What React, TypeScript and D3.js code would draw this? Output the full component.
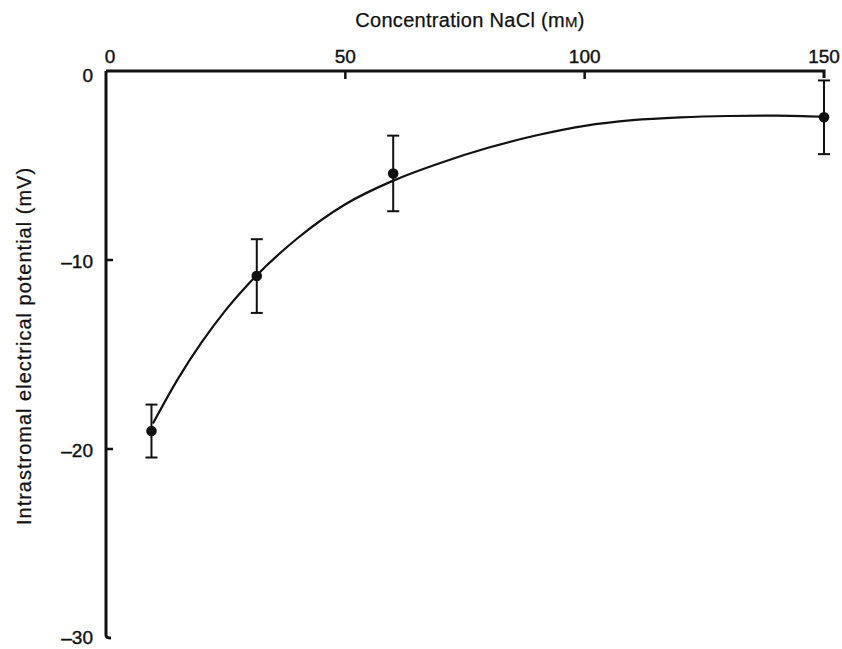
import React from "react";
import * as d3 from "d3";

// Measured intrastromal potential vs NaCl concentration
const concentrations = [9.5, 31.5, 60, 150];
const potentials = [-19.05, -10.85, -5.42, -2.45];
const errors = [1.4, 1.95, 2.0, 1.95];

// Fitted curve, sampled along the concentration axis
const fitConc = [9.8, 15, 20, 25, 30, 40, 50, 60, 70, 80, 90, 100, 110, 120, 130, 140, 150];
const fitPot = [-18.65, -16.3, -14.35, -12.65, -11.2, -8.85, -7.05, -5.8, -4.85, -4.05, -3.4, -2.9, -2.6, -2.45, -2.38, -2.36, -2.42];

const xTicks = [0, 50, 100, 150];
const yTicks = [0, -10, -20, -30];

const W = 842;
const H = 649;
const FONT = "'Liberation Sans', Arial, Helvetica, sans-serif";
const INK = "#111";

export default function App() {
  const x = d3.scaleLinear().domain([0, 150]).range([106, 824]);
  const y = d3.scaleLinear().domain([0, -30]).range([71, 638]);

  const line = d3
    .line<number>()
    .x((_, i) => x(fitConc[i]))
    .y((d) => y(d))
    .curve(d3.curveMonotoneX);

  const fmt = (v: number) => (v < 0 ? "\u2013" + Math.abs(v) : String(v));

  const x0 = x(0);
  const y0 = y(0);
  const yEnd = y(-30);

  return (
    <svg
      width={W}
      height={H}
      viewBox={`0 0 ${W} ${H}`}
      style={{ position: "absolute", left: 0, top: 0, background: "#fff" }}
      fontFamily={FONT}
    >
      <rect width={W} height={H} fill="#fff" />

      {/* Axis titles */}
      <text x={470} y={27} textAnchor="middle" fontSize={20} letterSpacing={0.3} fill={INK} stroke={INK} strokeWidth={0.25}>
        Concentration NaCl (m<tspan fontSize={15}>M</tspan>)
      </text>
      <text
        transform={`translate(31, 346) rotate(-90)`}
        textAnchor="middle"
        fontSize={20}
        letterSpacing={1}
        fill={INK}
        stroke={INK}
        strokeWidth={0.25}
      >
        Intrastromal electrical potential (mV)
      </text>

      {/* Top (concentration) axis */}
      <path
        d={`M${x0},${y0} H${x(150)} V${y0 + 7}`}
        fill="none"
        stroke={INK}
        strokeWidth={3}
      />
      {xTicks.slice(1, 3).map((t) => (
        <line key={t} x1={x(t)} x2={x(t)} y1={y0} y2={y0 + 8} stroke={INK} strokeWidth={2.5} />
      ))}
      {xTicks.map((t) => (
        <text key={t} x={x(t) + (t === 0 ? 4 : 0)} y={63} textAnchor="middle" fontSize={19} fill={INK} stroke={INK} strokeWidth={0.4}>
          {fmt(t)}
        </text>
      ))}

      {/* Left (potential) axis */}
      <path
        d={`M${x0},${y0} V${yEnd - 3} Q${x0},${yEnd} ${x0 + 5},${yEnd}`}
        fill="none"
        stroke={INK}
        strokeWidth={3}
      />
      {yTicks.slice(1, 3).map((t) => (
        <line key={t} x1={x0} x2={x0 + 7} y1={y(t)} y2={y(t)} stroke={INK} strokeWidth={2.5} />
      ))}
      {yTicks.map((t) => (
        <text
          key={t}
          x={93}
          y={y(t) + (t === 0 ? 4 : t === -30 ? -1 : 1)}
          dy="0.35em"
          textAnchor="end"
          fontSize={19}
          fill={INK}
          stroke={INK}
          strokeWidth={0.4}
        >
          {fmt(t)}
        </text>
      ))}

      {/* Fitted curve */}
      <path d={line(fitPot) ?? ""} fill="none" stroke={INK} strokeWidth={2.2} />

      {/* Error bars and points */}
      {concentrations.map((c, i) => {
        const cx = x(c);
        const top = y(potentials[i] + errors[i]);
        const bot = y(potentials[i] - errors[i]);
        return (
          <g key={c} stroke={INK} strokeWidth={2}>
            <line x1={cx} x2={cx} y1={top} y2={bot} />
            <line x1={cx - 6} x2={cx + 6} y1={top} y2={top} />
            <line x1={cx - 6} x2={cx + 6} y1={bot} y2={bot} />
            <circle cx={cx} cy={y(potentials[i])} r={5.3} fill={INK} stroke="none" />
          </g>
        );
      })}
    </svg>
  );
}
